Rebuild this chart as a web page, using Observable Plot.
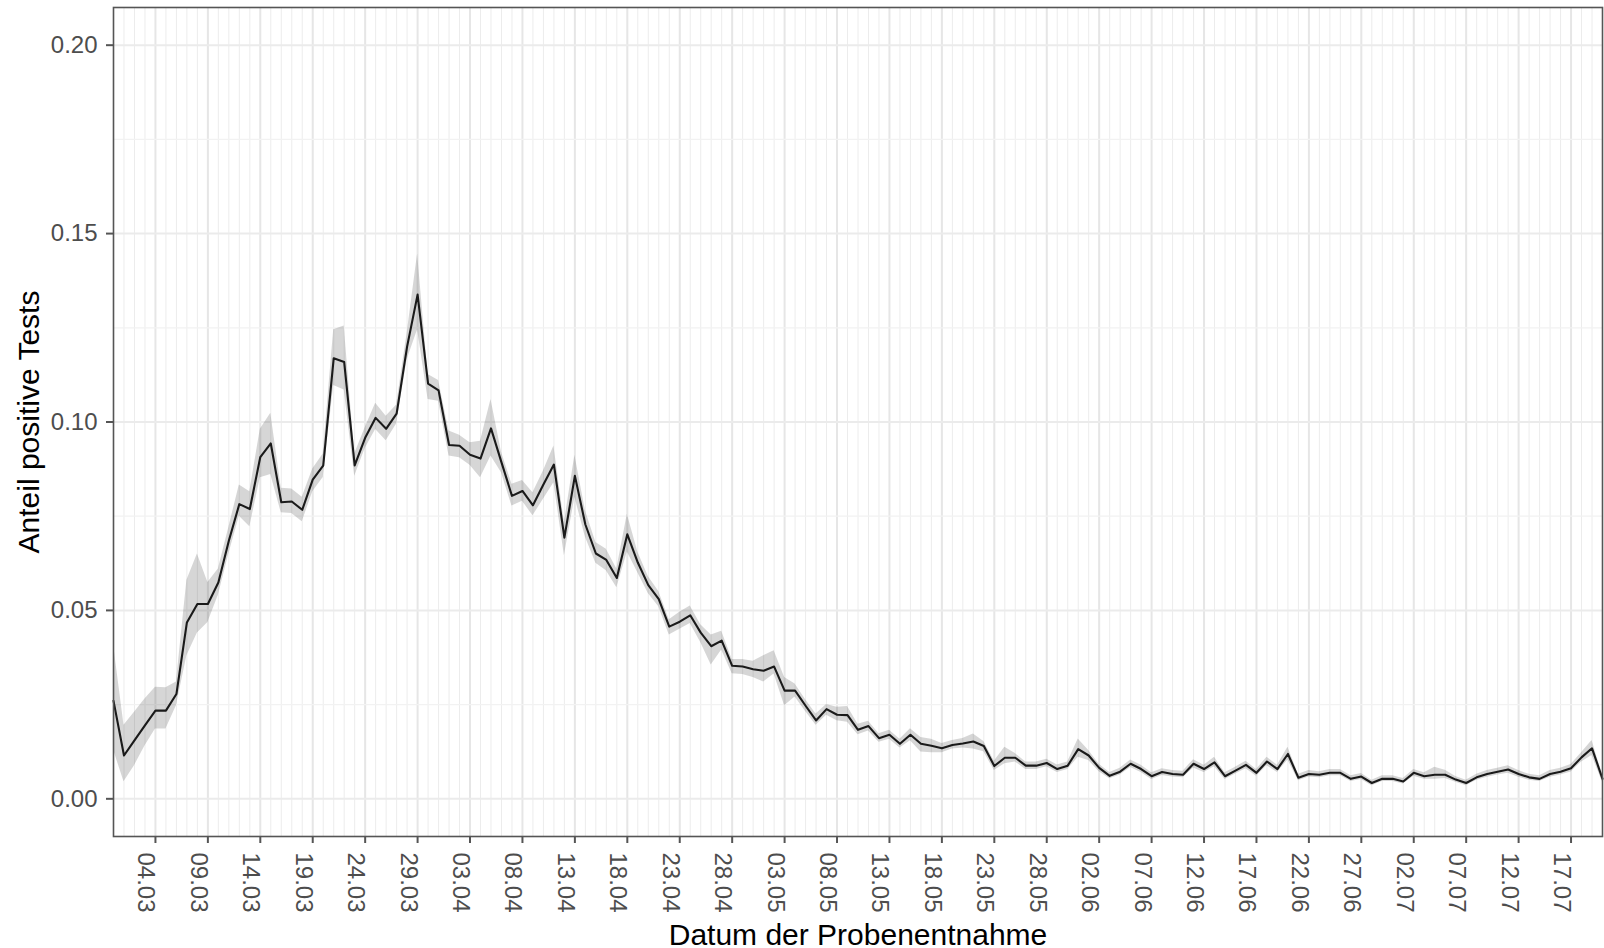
<!DOCTYPE html>
<html><head><meta charset="utf-8">
<script src="https://cdn.jsdelivr.net/npm/d3@7"></script>
<script src="https://cdn.jsdelivr.net/npm/@observablehq/plot@0.6"></script>
<style>html,body{margin:0;padding:0;background:#fff;overflow:hidden}</style>
</head><body><div id="chart"></div>
<script>
// ---- data ----
const startDate = "2020-02-29"; // first sample day, one value per day
const positiveShare = [
0.026,0.0115,0.0155,0.0195,0.0234,0.0234,0.0278,0.0468,0.0517,0.0517,
0.0574,0.0685,0.0782,0.0769,0.0907,0.0943,0.0787,0.0789,0.0767,0.0847,
0.0884,0.1169,0.1159,0.0885,0.0958,0.1011,0.0982,0.1022,0.120,0.1338,
0.1102,0.1084,0.0939,0.0937,0.0913,0.0903,0.0983,0.0893,0.0804,0.0817,
0.0779,0.0834,0.0887,0.0693,0.0857,0.0728,0.0651,0.0634,0.0586,0.0702,
0.0627,0.0567,0.0530,0.0457,0.0470,0.0487,0.0441,0.0405,0.0420,0.0353,
0.0351,0.0344,0.0340,0.0351,0.0287,0.0287,0.0247,0.0208,0.0238,0.0223,
0.0222,0.0183,0.0193,0.0161,0.0170,0.0146,0.0170,0.0146,0.0141,0.0134,
0.0143,0.0147,0.0152,0.0140,0.0087,0.0109,0.0109,0.0088,0.0088,0.0095,
0.0079,0.0088,0.0132,0.0115,0.0082,0.0061,0.0072,0.0093,0.0079,0.0060,
0.0071,0.0066,0.0064,0.0093,0.0079,0.0097,0.0060,0.0075,0.0090,0.0069,
0.0099,0.0079,0.0119,0.0056,0.0066,0.0064,0.0069,0.0069,0.0053,0.0059,
0.0042,0.0053,0.0053,0.0046,0.0069,0.0060,0.0064,0.0064,0.0051,0.0042,
0.0057,0.0066,0.0072,0.0078,0.0066,0.0057,0.0053,0.0066,0.0072,0.0081,
0.0110,0.0134,0.0053
];
const ciLower = [
0.013,0.0045,0.0088,0.014,0.0185,0.0185,0.0247,0.038,0.044,0.0468,
0.054,0.065,0.075,0.0722,0.0852,0.0861,0.0759,0.0757,0.0735,0.0815,
0.0853,0.1097,0.1085,0.0856,0.093,0.098,0.095,0.0995,0.1165,0.1245,
0.106,0.1055,0.091,0.0905,0.0885,0.0852,0.091,0.0865,0.0777,0.079,
0.0751,0.0795,0.0839,0.0645,0.0800,0.0695,0.0625,0.0605,0.056,0.0655,
0.060,0.0545,0.051,0.0435,0.045,0.0465,0.0415,0.0355,0.0395,0.0332,
0.033,0.0322,0.031,0.0331,0.0247,0.027,0.0232,0.0195,0.0222,0.0207,
0.0203,0.017,0.018,0.015,0.0158,0.0135,0.0154,0.0124,0.0122,0.0122,
0.0132,0.0135,0.0132,0.0125,0.0075,0.0093,0.0098,0.0078,0.0078,0.0085,
0.007,0.0078,0.011,0.0102,0.0072,0.0053,0.0063,0.0083,0.007,0.0051,
0.0062,0.0058,0.0056,0.0082,0.007,0.0085,0.0051,0.0066,0.008,0.006,
0.0088,0.007,0.0103,0.0048,0.0058,0.0056,0.0061,0.0061,0.0046,0.0051,
0.0035,0.0046,0.0046,0.0039,0.006,0.0052,0.0052,0.0054,0.0044,0.0035,
0.0049,0.0057,0.0063,0.0068,0.0057,0.0049,0.0046,0.0057,0.0063,0.0071,
0.0098,0.0115,0.0044
];
const ciUpper = [
0.041,0.0195,0.023,0.0265,0.0296,0.0295,0.031,0.058,0.065,0.0574,
0.061,0.072,0.0833,0.0815,0.0981,0.1023,0.0824,0.0822,0.0800,0.0875,
0.0915,0.1245,0.1255,0.0915,0.0985,0.105,0.1015,0.1045,0.1235,0.1446,
0.1126,0.111,0.0976,0.0965,0.0945,0.0949,0.106,0.092,0.0835,0.0845,
0.0812,0.0870,0.0936,0.0733,0.0912,0.0765,0.068,0.0662,0.061,0.0755,
0.0655,0.0590,0.055,0.0475,0.0495,0.0512,0.0462,0.0435,0.0445,0.037,
0.037,0.0365,0.038,0.0393,0.0322,0.0305,0.0263,0.0225,0.025,0.0243,
0.0245,0.0198,0.0206,0.0173,0.0182,0.0158,0.0186,0.0163,0.0158,0.0147,
0.0155,0.016,0.0172,0.0152,0.010,0.0137,0.012,0.0098,0.0098,0.0105,
0.009,0.0098,0.0159,0.0128,0.0092,0.007,0.0081,0.0103,0.0089,0.0069,
0.008,0.0075,0.0073,0.0104,0.0089,0.011,0.0069,0.0084,0.010,0.0078,
0.011,0.0089,0.0137,0.0065,0.0075,0.0072,0.0078,0.0078,0.0061,0.0067,
0.0049,0.0061,0.0061,0.0054,0.0078,0.0069,0.0084,0.0076,0.0059,0.0049,
0.0065,0.0075,0.0081,0.0088,0.0075,0.0065,0.0061,0.0075,0.0081,0.0091,
0.0122,0.0155,0.0063
];
const xTickLabels = ["04.03","09.03","14.03","19.03","24.03","29.03","03.04","08.04","13.04","18.04",
  "23.04","28.04","03.05","08.05","13.05","18.05","23.05","28.05","02.06","07.06",
  "12.06","17.06","22.06","27.06","02.07","07.07","12.07","17.07"];
const yTicks = [0, 0.05, 0.10, 0.15, 0.20];
const yMinorTicks = [0.025, 0.075, 0.125, 0.175];
const xTitle = "Datum der Probenentnahme";
const yTitle = "Anteil positive Tests";

// ---- build table ----
const start = new Date(startDate + "T00:00:00Z");
const rows = positiveShare.map((v, i) => ({
  date: d3.utcDay.offset(start, i), value: v, lo: ciLower[i], hi: ciUpper[i]
}));
const xTicks = xTickLabels.map(s => {
  const [dd, mm] = s.split(".").map(Number);
  return new Date(Date.UTC(2020, mm - 1, dd));
});
const fmt = d3.utcFormat("%d.%m");
const font = "'Liberation Sans', Arial, sans-serif";

const chart = Plot.plot({
  width: 1604,
  height: 948,
  marginLeft: 113,
  marginRight: 2,
  marginTop: 7,
  marginBottom: 112,
  style: {fontFamily: font, background: "#fff", overflow: "visible"},
  x: {type: "utc", domain: [rows[0].date, rows[rows.length - 1].date]},
  y: {domain: [-0.01, 0.21]},
  marks: [
    // grid
    Plot.ruleX(rows, {x: "date", stroke: "#ececec", strokeWidth: 1}),
    Plot.ruleX(xTicks, {stroke: "#e6e6e6", strokeWidth: 2}),
    Plot.ruleY(yMinorTicks, {stroke: "#f2f2f2", strokeWidth: 1.2}),
    Plot.ruleY(yTicks, {stroke: "#ebebeb", strokeWidth: 2}),
    // ribbon + line
    Plot.areaY(rows, {x: "date", y1: "lo", y2: "hi", fill: "#333", fillOpacity: 0.2}),
    Plot.line(rows, {x: "date", y: "value", stroke: "#1a1a1a", strokeWidth: 2.1}),
    // frame
    Plot.frame({stroke: "#555", strokeWidth: 1.6}),
    // y axis
    Plot.axisY({ticks: yTicks, tickSize: 7, text: null, stroke: "#555", strokeWidth: 2}),
    Plot.axisY({ticks: yTicks, tickSize: 0, tickPadding: 16, tickFormat: d3.format(".2f"),
      fontSize: 24, fill: "#4d4d4d", label: null}),
    // x axis
    Plot.axisX({ticks: xTicks, tickSize: 7, text: null, stroke: "#555", strokeWidth: 2, label: null}),
    Plot.text(xTicks, {x: d => d, text: d => fmt(d), frameAnchor: "bottom", rotate: 90,
      textAnchor: "start", lineAnchor: "top", dy: 16, dx: 0, fontSize: 24, fill: "#4d4d4d"}),
    // titles
    Plot.text([xTitle], {text: d => d, frameAnchor: "bottom", textAnchor: "middle", lineAnchor: "bottom", dy: 108,
      fontSize: 30, fill: "#000"}),
    Plot.text([yTitle], {text: d => d, frameAnchor: "left", textAnchor: "middle", rotate: -90, lineAnchor: "middle",
      dx: -84, fontSize: 30, fill: "#000"})
  ]
});
document.getElementById("chart").appendChild(chart);
</script>
</body></html>
